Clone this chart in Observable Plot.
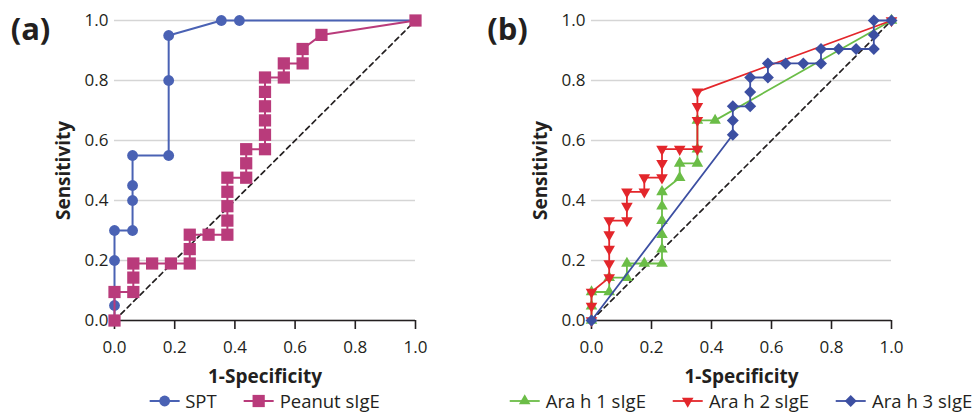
<!DOCTYPE html>
<html><head><meta charset="utf-8">
<script src="https://cdn.jsdelivr.net/npm/d3@7"></script>
<script src="https://cdn.jsdelivr.net/npm/@observablehq/plot@0.6"></script>
<style>
body{margin:0;background:#fff;font-family:"Open Sans",sans-serif;}
#wrap{position:relative;width:978px;height:414px;overflow:hidden;background:#fff;}
.panel{position:absolute;top:0;width:489px;height:414px;}
.legend{position:absolute;top:391px;height:20px;line-height:20px;display:flex;align-items:center;font-size:18.5px;color:#231f20;white-space:nowrap;transform:translateX(-50%);}
.legend .item{display:flex;align-items:center;margin-right:27px;height:20px}
.legend .item:last-child{margin-right:0}
.legend svg{margin-right:6px;overflow:visible}
</style></head><body><div id="wrap"></div>
<script>
// ---------- data ----------
const xTicks = [0, 0.2, 0.4, 0.6, 0.8, 1.0];
const yTicks = [0, 0.2, 0.4, 0.6, 0.8, 1.0];
const diagonal = [0, 1];
const xLabel = "1-Specificity";
const yLabel = "Sensitivity";

// Panel (a)
const sptName = "SPT";
const sptX = [0, 0, 0, 0, 0.06, 0.06, 0.06, 0.06, 0.18, 0.18, 0.18, 0.355, 0.415, 1];
const sptY = [0, 0.05, 0.2, 0.3, 0.3, 0.4, 0.45, 0.55, 0.55, 0.8, 0.95, 1, 1, 1];

const peanutName = "Peanut sIgE";
const peanutX = [0, 0, 0.0625, 0.0625, 0.0625, 0.125, 0.1875, 0.25, 0.25, 0.25, 0.3125, 0.375, 0.375, 0.375, 0.375, 0.375, 0.4375, 0.4375, 0.4375, 0.5, 0.5, 0.5, 0.5, 0.5, 0.5, 0.5625, 0.5625, 0.625, 0.625, 0.6875, 1];
const peanutY = [0, 0.095, 0.095, 0.143, 0.19, 0.19, 0.19, 0.19, 0.238, 0.286, 0.286, 0.286, 0.333, 0.381, 0.429, 0.476, 0.476, 0.524, 0.571, 0.571, 0.619, 0.667, 0.714, 0.762, 0.81, 0.81, 0.857, 0.857, 0.905, 0.952, 1];

// Panel (b)
const ara1Name = "Ara h 1 sIgE";
const ara1X = [0, 0, 0, 0.059, 0.059, 0.118, 0.118, 0.176, 0.235, 0.235, 0.235, 0.235, 0.235, 0.235, 0.294, 0.294, 0.353, 0.353, 0.353, 0.412, 1];
const ara1Y = [0, 0.048, 0.095, 0.095, 0.143, 0.143, 0.19, 0.19, 0.19, 0.238, 0.286, 0.333, 0.381, 0.429, 0.476, 0.524, 0.524, 0.571, 0.667, 0.667, 1];

const ara2Name = "Ara h 2 sIgE";
const ara2X = [0, 0, 0, 0.059, 0.059, 0.059, 0.059, 0.059, 0.118, 0.118, 0.118, 0.176, 0.176, 0.235, 0.235, 0.235, 0.294, 0.353, 0.353, 0.353, 0.353, 1];
const ara2Y = [0, 0.048, 0.095, 0.143, 0.19, 0.238, 0.286, 0.333, 0.333, 0.381, 0.429, 0.429, 0.476, 0.476, 0.524, 0.571, 0.571, 0.571, 0.667, 0.714, 0.762, 1];

const ara3Name = "Ara h 3 sIgE";
const ara3X = [0, 0.471, 0.471, 0.471, 0.529, 0.529, 0.529, 0.588, 0.588, 0.647, 0.706, 0.765, 0.765, 0.824, 0.882, 0.941, 0.941, 0.941, 1];
const ara3Y = [0, 0.619, 0.667, 0.714, 0.714, 0.762, 0.81, 0.81, 0.857, 0.857, 0.857, 0.857, 0.905, 0.905, 0.905, 0.905, 0.952, 1, 1];

// ---------- helpers ----------
const triangleDown = {
  draw(ctx, size) {
    const y = Math.sqrt(size / (3 * Math.sqrt(3)));
    const s = Math.sqrt(3) * y;
    ctx.moveTo(0, 2 * y); ctx.lineTo(-s, -y); ctx.lineTo(s, -y); ctx.closePath();
  }
};
const zip = (xs, ys) => xs.map((x, i) => ({x, y: ys[i]}));
const FONT = "'Open Sans', sans-serif";
const INK = "#231f20";

function seriesMarks(s) {
  const data = zip(s.x, s.y);
  return [
    Plot.line(data, {x: "x", y: "y", stroke: s.color, strokeWidth: s.lw, curve: "linear"}),
    Plot.dot(data, {x: "x", y: "y", fill: s.color, stroke: "none", r: s.r, symbol: s.symbol})
  ];
}

function makePanel({marginLeft, marginRight, letter, series}) {
  return Plot.plot({
    width: 489, height: 390,
    marginLeft, marginRight, marginTop: 20, marginBottom: 70,
    x: {domain: [0, 1]}, y: {domain: [0, 1]},
    style: {fontFamily: FONT, fontSize: "17px", color: INK, background: "white", overflow: "visible"},
    marks: [
      Plot.gridY(yTicks, {stroke: "#d5d5d5", strokeOpacity: 1, strokeWidth: 1.6}),
      Plot.line(diagonal, {x: d => d, y: d => d, stroke: "#231f20", strokeWidth: 1.7, strokeDasharray: "5,4"}),
      Plot.ruleY([0], {stroke: INK, strokeWidth: 1.6}),
      Plot.axisX(xTicks, {tickFormat: d => d.toFixed(1), tickSize: 9, tickPadding: 11, strokeWidth: 1.6, stroke: INK, label: null, fontSize: 17, fill: INK}),
      Plot.axisY(yTicks, {tickFormat: d => d.toFixed(1), tickSize: 0, tickPadding: 6, label: null, fontSize: 17, fill: INK}),
      ...series.flatMap(seriesMarks),
      Plot.text([yLabel], {text: d => d, frameAnchor: "left", dx: -51, rotate: -90, textAnchor: "middle", lineAnchor: "middle", fontWeight: "bold", fontSize: 19, fill: INK}),
      Plot.text([xLabel], {text: d => d, frameAnchor: "bottom", dy: 56, textAnchor: "middle", lineAnchor: "middle", fontWeight: "bold", fontSize: 19, fill: INK}),
      Plot.text([letter], {text: d => d, frameAnchor: "top-left", dx: -84, dy: 10, textAnchor: "middle", lineAnchor: "middle", fontWeight: "bold", fontSize: 31, fill: INK})
    ]
  });
}

function legend(items, centerX) {
  const div = document.createElement("div");
  div.className = "legend";
  div.style.left = centerX + "px";
  for (const it of items) {
    const item = document.createElement("div");
    item.className = "item";
    const ns = "http://www.w3.org/2000/svg";
    const svg = document.createElementNS(ns, "svg");
    svg.setAttribute("width", 30); svg.setAttribute("height", 16);
    const ln = document.createElementNS(ns, "line");
    ln.setAttribute("x1", 0); ln.setAttribute("x2", 30); ln.setAttribute("y1", 8); ln.setAttribute("y2", 8);
    ln.setAttribute("stroke", it.color); ln.setAttribute("stroke-width", it.lw);
    svg.appendChild(ln);
    const sym = typeof it.symbol === "string"
      ? {circle: d3.symbolCircle, square: d3.symbolSquare, triangle: d3.symbolTriangle, diamond2: d3.symbolDiamond2}[it.symbol]
      : it.symbol;
    const p = document.createElementNS(ns, "path");
    p.setAttribute("d", d3.symbol(sym, Math.PI * it.r * it.r)());
    p.setAttribute("transform", "translate(15,8)");
    p.setAttribute("fill", it.color);
    svg.appendChild(p);
    item.appendChild(svg);
    const t = document.createElement("span");
    t.textContent = it.name;
    item.appendChild(t);
    div.appendChild(item);
  }
  return div;
}

// ---------- build ----------
const seriesA = [
  {name: sptName, x: sptX, y: sptY, color: "#4a62b4", symbol: "circle", r: 5.4, lw: 2},
  {name: peanutName, x: peanutX, y: peanutY, color: "#b93b7b", symbol: "square", r: 6.9, lw: 2}
];
const seriesB = [
  {name: ara1Name, x: ara1X, y: ara1Y, color: "#6bbd47", symbol: "triangle", r: 4.3, lw: 1.8},
  {name: ara2Name, x: ara2X, y: ara2Y, color: "#e3262b", symbol: triangleDown, r: 4.3, lw: 1.8},
  {name: ara3Name, x: ara3X, y: ara3Y, color: "#3c4fa2", symbol: "diamond2", r: 5.4, lw: 1.8}
];

const wrap = document.getElementById("wrap");
const pa = document.createElement("div"); pa.className = "panel"; pa.style.left = "0px";
const pb = document.createElement("div"); pb.className = "panel"; pb.style.left = "489px";
pa.appendChild(makePanel({marginLeft: 114, marginRight: 74, letter: "(a)", series: seriesA}));
pa.appendChild(legend(seriesA, 264.5));
pb.appendChild(makePanel({marginLeft: 102, marginRight: 87, letter: "(b)", series: seriesB}));
pb.appendChild(legend(seriesB, 252));
wrap.appendChild(pa); wrap.appendChild(pb);
</script></body></html>
